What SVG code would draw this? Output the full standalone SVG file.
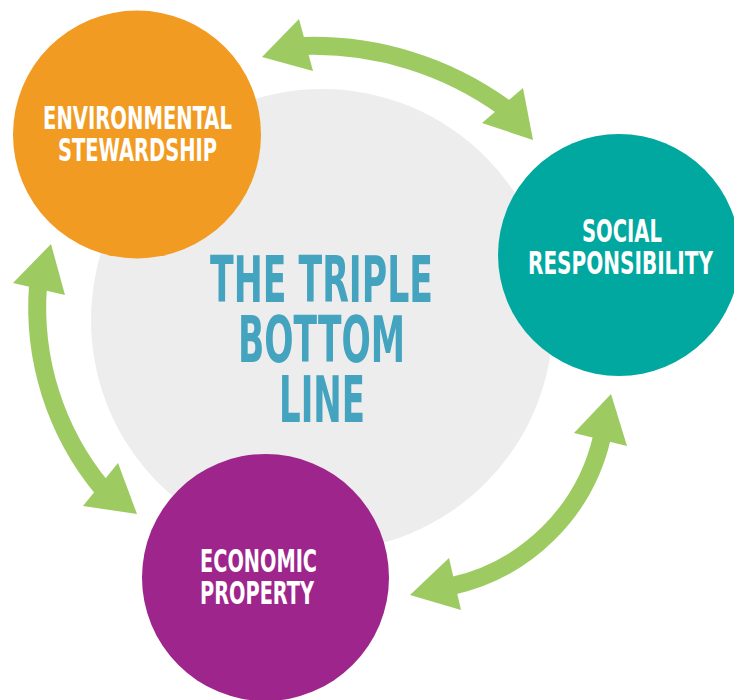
<svg xmlns="http://www.w3.org/2000/svg" width="734" height="700" viewBox="0 0 734 700">
  <defs>
    <style>
      .shaft { fill: none; stroke: #9DCB62; stroke-width: 18; stroke-linecap: butt; }
      .head { fill: #9DCB62; }
      .lbl { font-family: "DejaVu Sans Condensed", "DejaVu Sans", "Liberation Sans", sans-serif; font-stretch: condensed; font-weight: bold; fill: #FFFFFF; font-size: 31.5px; text-anchor: middle; }
      .title { font-family: "DejaVu Sans Condensed", "DejaVu Sans", "Liberation Sans", sans-serif; font-stretch: condensed; font-weight: bold; fill: #44A3BF; font-size: 64.5px; text-anchor: middle; }
    </style>
  </defs>
  <rect x="0" y="0" width="734" height="700" fill="#FFFFFF"/>

  <g id="center">
    <circle cx="322" cy="320" r="231" fill="#EDEDED"/>
    <text class="title" x="321.5" y="302" textLength="223" lengthAdjust="spacingAndGlyphs">THE TRIPLE</text>
    <text class="title" x="321.5" y="362" textLength="167" lengthAdjust="spacingAndGlyphs">BOTTOM</text>
    <text class="title" x="322" y="422" textLength="86" lengthAdjust="spacingAndGlyphs">LINE</text>
  </g>

  <g id="connectors">
    <path class="shaft" d="M 304 46 A 326 326 0 0 1 505 108"/>
    <polygon class="head" points="262,57 299,19 313,71"/>
    <polygon class="head" points="533,140 523,88 482,123"/>

    <path class="shaft" d="M 38 286 A 284 284 0 0 0 102 488"/>
    <polygon class="head" points="51,244 13,283 65,295"/>
    <polygon class="head" points="137,514 118,463 83,506"/>

    <path class="shaft" d="M 602 437 A 198 198 0 0 1 452 586"/>
    <polygon class="head" points="611,394 574,433 627,446"/>
    <polygon class="head" points="410,595 449,558 461,610"/>
  </g>

  <g id="environmental">
    <circle cx="137" cy="134.5" r="124" fill="#F29B23"/>
    <text class="lbl" x="137.5" y="129" textLength="189" lengthAdjust="spacingAndGlyphs">ENVIRONMENTAL</text>
    <text class="lbl" x="137.5" y="161" textLength="159" lengthAdjust="spacingAndGlyphs">STEWARDSHIP</text>
  </g>

  <g id="social">
    <circle cx="619" cy="255" r="121" fill="#00A8A0"/>
    <text class="lbl" x="622" y="242" textLength="80" lengthAdjust="spacingAndGlyphs">SOCIAL</text>
    <text class="lbl" x="620.5" y="274" textLength="185" lengthAdjust="spacingAndGlyphs">RESPONSIBILITY</text>
  </g>

  <g id="economic">
    <circle cx="265.5" cy="577.5" r="123.5" fill="#9E258B"/>
    <text class="lbl" x="258.5" y="572" textLength="117" lengthAdjust="spacingAndGlyphs">ECONOMIC</text>
    <text class="lbl" x="257" y="604" textLength="114" lengthAdjust="spacingAndGlyphs">PROPERTY</text>
  </g>
</svg>
